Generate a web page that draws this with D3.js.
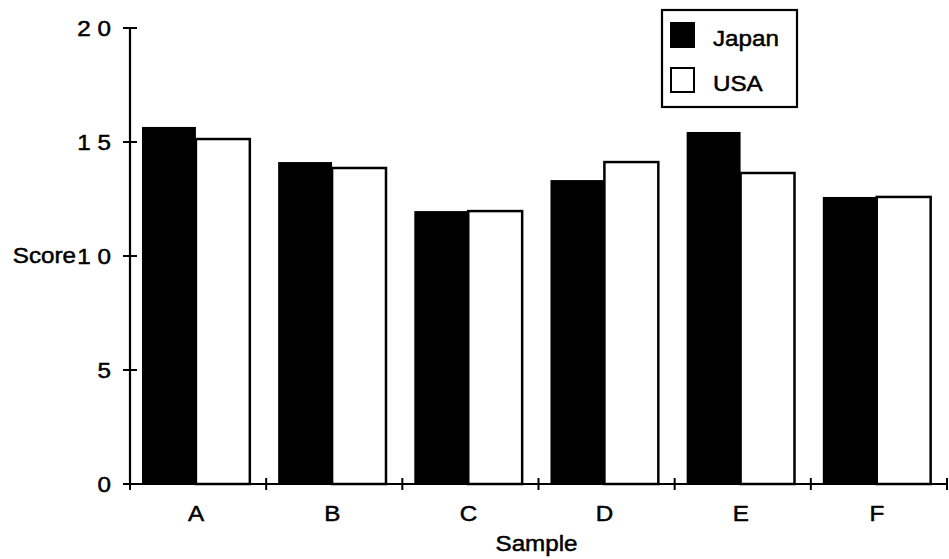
<!DOCTYPE html>
<html>
<head>
<meta charset="utf-8">
<script src="https://cdn.jsdelivr.net/npm/d3@7"></script>
<style>
  html, body { margin: 0; padding: 0; background: #fff; }
  svg { display: block; }
  text { font-family: "Liberation Sans", Arial, Helvetica, sans-serif; fill: #000; stroke: #000; stroke-width: 0.5px; }
</style>
</head>
<body>
<svg id="chart" width="949" height="559"></svg>
<script>
const categories = ["A", "B", "C", "D", "E", "F"];
const seriesNames = ["Japan", "USA"];
const japanValues = [15.66, 14.12, 11.97, 13.33, 15.44, 12.59];
const usaValues = [15.13, 13.86, 11.97, 14.12, 13.64, 12.59];
const yTicks = [0, 5, 10, 15, 20];
const yTickLabels = ["0", "5", "1 0", "1 5", "2 0"];
const yTitle = "Score";
const xTitle = "Sample";

const svg = d3.select("#chart");
const FS = 22, SX = 1.1;

function stretchedText(g, px, py, str, anchor) {
  return g.append("text")
    .attr("transform", `translate(${px},${py}) scale(${SX},1)`)
    .attr("text-anchor", anchor)
    .attr("font-size", FS)
    .text(str);
}

const mLeft = 130, mRight = 947, mTop = 28, mBottom = 484;
const x = d3.scaleBand().domain(categories).range([mLeft, mRight]).padding(0);
const y = d3.scaleLinear().domain([0, 20]).range([mBottom, mTop]);
const bw = x.bandwidth();
const xs = d3.scaleBand().domain(seriesNames).range([bw * 0.088, bw * 0.88]).padding(0);

const data = categories.map((c, i) => ({ cat: c, vals: [
  { s: "Japan", v: japanValues[i] },
  { s: "USA", v: usaValues[i] }
]}));

// bars
const groups = svg.append("g").selectAll("g").data(data).join("g")
  .attr("transform", d => `translate(${x(d.cat)},0)`);
groups.selectAll("rect").data(d => d.vals).join("rect")
  .attr("x", d => xs(d.s))
  .attr("y", d => y(d.v))
  .attr("width", xs.bandwidth())
  .attr("height", d => y(0) - y(d.v))
  .attr("fill", d => d.s === "Japan" ? "#000" : "#fff")
  .attr("stroke", "#000")
  .attr("stroke-width", d => d.s === "Japan" ? 0 : 2.5);

// y axis
const ay = svg.append("g");
ay.append("line").attr("x1", mLeft).attr("x2", mLeft).attr("y1", y(20)).attr("y2", y(0))
  .attr("stroke", "#000").attr("stroke-width", 2.2);
yTicks.forEach((t, i) => {
  ay.append("line").attr("x1", mLeft - 7).attr("x2", mLeft + 7)
    .attr("y1", y(t)).attr("y2", y(t)).attr("stroke", "#000").attr("stroke-width", 2);
  stretchedText(ay, 111, y(t) + 8, yTickLabels[i], "end");
});
stretchedText(ay, 76, y(10) + 7, yTitle, "end");

// x axis
const ax = svg.append("g");
ax.append("line").attr("x1", mLeft).attr("x2", mRight).attr("y1", y(0)).attr("y2", y(0))
  .attr("stroke", "#000").attr("stroke-width", 2.2);
const bounds = categories.map(c => x(c)).concat([mRight]);
bounds.forEach(b => {
  ax.append("line").attr("x1", b).attr("x2", b).attr("y1", y(0) - 6).attr("y2", y(0) + 6)
    .attr("stroke", "#000").attr("stroke-width", 2);
});
categories.forEach(c => stretchedText(ax, x(c) + bw / 2 - 2, 521, c, "middle"));
stretchedText(ax, (mLeft + mRight) / 2 - 2, 551, xTitle, "middle");

// legend
const lg = svg.append("g");
lg.append("rect").attr("x", 662).attr("y", 10).attr("width", 135).attr("height", 97)
  .attr("fill", "#fff").attr("stroke", "#000").attr("stroke-width", 2.2);
seriesNames.forEach((s, i) => {
  lg.append("rect").attr("x", 671).attr("y", 23 + i * 45).attr("width", 23).attr("height", 24)
    .attr("fill", s === "Japan" ? "#000" : "#fff").attr("stroke", "#000").attr("stroke-width", 2);
  stretchedText(lg, 713, 46 + i * 45, s, "start");
});
</script>
</body>
</html>
